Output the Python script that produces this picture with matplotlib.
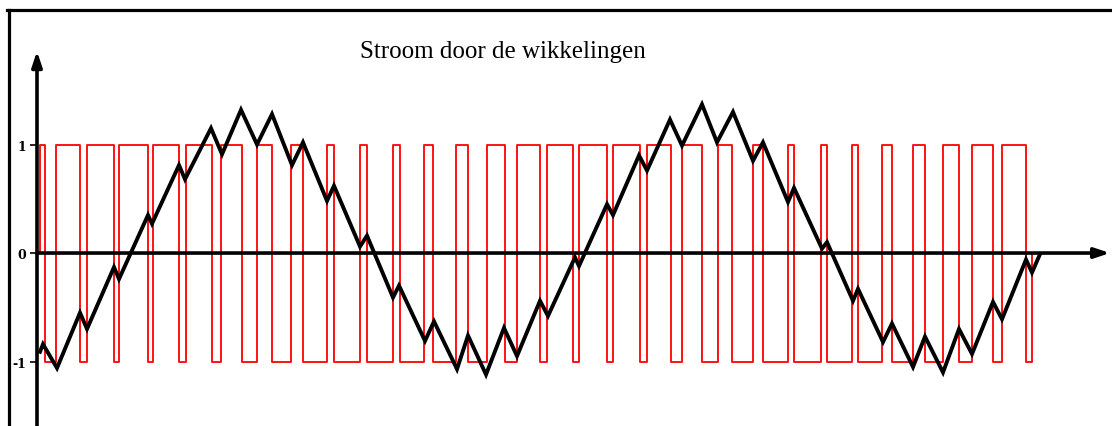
import numpy as np
import matplotlib.pyplot as plt
from matplotlib.lines import Line2D

# PWM voltage: switching instants [ms] and the level reached after each edge
t_switch = [0.00, 0.20, 0.64, 1.58, 1.88, 2.96, 3.16, 4.32, 4.50, 5.56,
            5.84, 6.88, 7.24, 8.08, 8.68, 9.28, 10.04, 10.52, 11.48, 11.76,
            12.80, 13.08, 14.12, 14.40, 15.36, 15.72, 16.64, 17.12, 17.88, 18.60,
            19.08, 20.00, 20.28, 21.32, 21.56, 22.68, 22.92, 24.00, 24.28, 25.24,
            25.68, 26.48, 27.12, 27.68, 28.52, 28.92, 29.92, 30.16, 31.24, 31.48,
            32.48, 32.72, 33.68, 34.08, 34.92, 35.40, 36.12, 36.76, 37.28, 38.12,
            38.48, 39.44, 39.68]
pwm_level = [1, -1, 1, -1, 1, -1, 1, -1, 1, -1,
             1, -1, 1, -1, 1, -1, 1, -1, 1, -1,
             1, -1, 1, -1, 1, -1, 1, -1, 1, -1,
             1, -1, 1, -1, 1, -1, 1, -1, 1, -1,
             1, -1, 1, -1, 1, -1, 1, -1, 1, -1,
             1, -1, 1, -1, 1, -1, 1, -1, 1, -1,
             1, -1, 0]

# current through the windings: corner points [ms], [-]
t_cur = [0.00, 0.12, 0.68, 1.60, 1.88, 2.96, 3.16, 4.32, 4.48, 5.56,
         5.80, 6.84, 7.28, 8.04, 8.68, 9.28, 10.08, 10.52, 11.48, 11.76,
         12.80, 13.08, 14.12, 14.36, 15.40, 15.76, 16.68, 17.12, 17.84, 18.56,
         19.08, 20.00, 20.32, 21.40, 21.56, 22.68, 22.92, 23.96, 24.28, 25.20,
         25.68, 26.48, 27.08, 27.72, 28.52, 28.92, 29.92, 30.16, 31.28, 31.48,
         32.52, 32.72, 33.72, 34.08, 34.92, 35.40, 36.12, 36.76, 37.28, 38.12,
         38.48, 39.44, 39.68, 40.00]
i_cur = [-0.91, -0.84, -1.06, -0.55, -0.70, -0.13, -0.24, 0.35, 0.27, 0.81,
         0.68, 1.15, 0.91, 1.32, 1.00, 1.28, 0.81, 1.02, 0.48, 0.62,
         0.06, 0.16, -0.41, -0.30, -0.81, -0.63, -1.07, -0.76, -1.12, -0.69,
         -0.95, -0.44, -0.58, -0.04, -0.12, 0.45, 0.35, 0.90, 0.76, 1.23,
         0.99, 1.37, 1.02, 1.30, 0.85, 1.02, 0.47, 0.60, 0.04, 0.10,
         -0.44, -0.33, -0.82, -0.65, -1.05, -0.77, -1.10, -0.70, -0.93, -0.45,
         -0.61, -0.06, -0.18, -0.01]

# plot limits
xlim = [-1.60, 42.88]
ylim = [-1.594, 2.341]
x_axis = -0.12

fig = plt.figure(figsize=(11.12, 4.27), dpi=100)
ax = fig.add_axes([0, 0, 1, 1])
ax.set_xlim(xlim)
ax.set_ylim(ylim)
for s in ax.spines.values():
    s.set_visible(False)
ax.spines['left'].set_position(('data', x_axis))

# red pwm signal
ax.step([0.0] + t_switch, [0] + pwm_level, where='post', color='red', lw=1.3, zorder=2)

# axes with arrows
arrow = dict(arrowstyle='-|>,head_length=0.9,head_width=0.3', color='black', lw=2.6,
             shrinkA=0, shrinkB=0)
ax.annotate('', xy=(42.8, 0), xytext=(x_axis, 0), arrowprops=arrow, zorder=3)
ax.annotate('', xy=(x_axis, 1.86), xytext=(x_axis, ylim[0]), arrowprops=arrow, zorder=3)

# black current
ax.plot(t_cur, i_cur, color='black', lw=2.8, solid_joinstyle='miter', zorder=4)

ax.set_xticks([])
ax.set_yticks([-1, 0, 1])
ax.set_yticklabels(['-1', '0', '1'])
ax.tick_params(axis='y', direction='out', length=5, width=1.2, pad=3,
               labelsize=9)
for lab in ax.get_yticklabels():
    lab.set_family('DejaVu Serif')
    lab.set_fontweight('bold')

fig.text(503 / 1112, 1 - 52 / 427, 'Stroom door de wikkelingen', ha='center', va='center',
         family='Liberation Serif', fontsize=18)

# frame of the original picture
fig.add_artist(Line2D([8.5 / 1112, 8.5 / 1112], [0, 1 - 10.5 / 427], color='black', lw=2.3))
fig.add_artist(Line2D([7 / 1112, 1], [1 - 10.5 / 427, 1 - 10.5 / 427], color='black', lw=2.3))

fig.savefig('out.png', dpi=100)
